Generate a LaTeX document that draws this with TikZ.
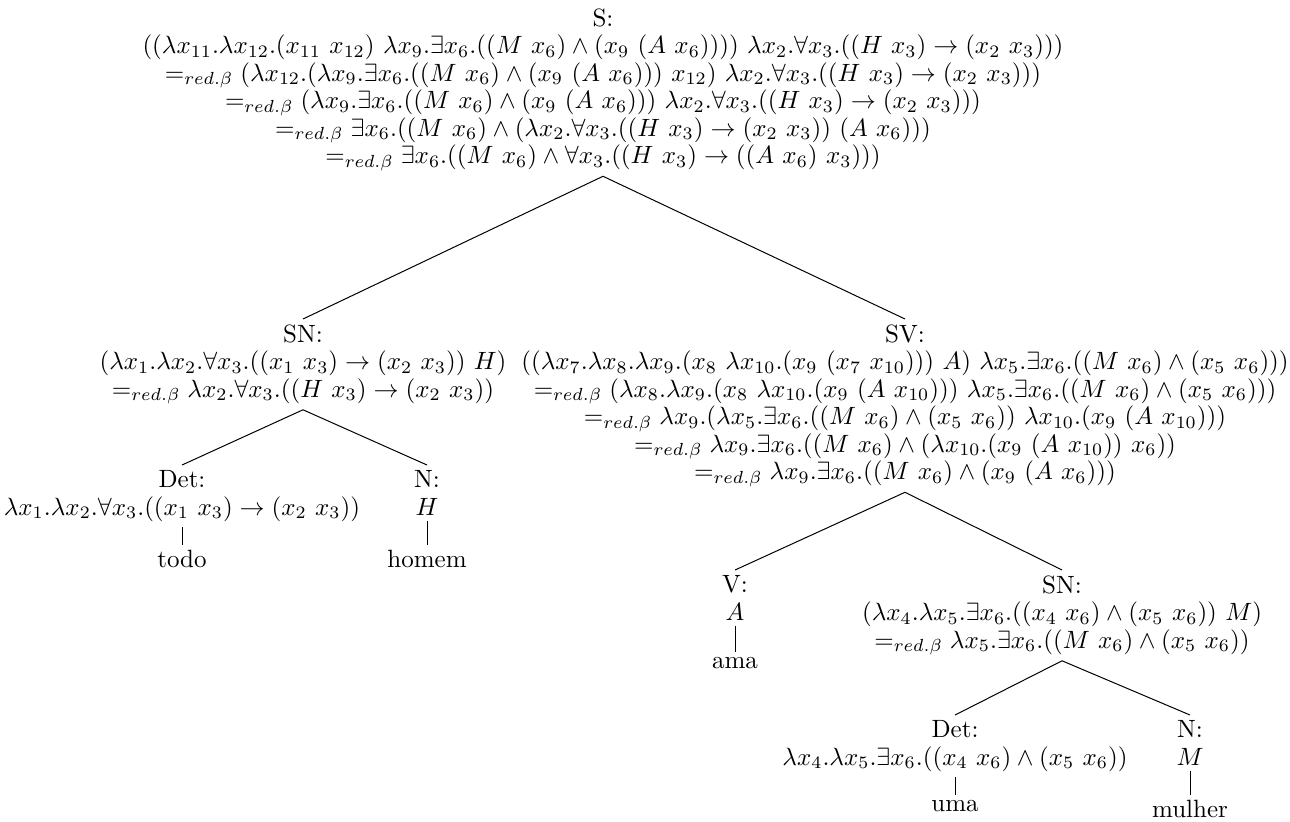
\documentclass[tikz,border=0pt]{standalone}
\usepackage{amsmath}
\newcommand{\tightrows}{\fontsize{10}{11}\selectfont\lineskiplimit=-100pt\relax}
\begin{document}
\begin{tikzpicture}[x=0.4pt,y=-0.4pt,
  tnode/.style={align=center,anchor=north,inner sep=2pt,font=\tightrows},
  leaf/.style={anchor=north,inner sep=2pt,font=\fontsize{10}{12}\selectfont},
  branch/.style={line width=0.4pt}]
\useasboundingbox (0,0) rectangle (1290,821);

% root
\node[tnode] (s) at (603,3) {S:\\
$((\lambda x_{11}.\lambda x_{12}.(x_{11}\ x_{12})\ \lambda x_9.\exists x_6.((M\ x_6) \wedge (x_9\ (A\ x_6))))\ \lambda x_2.\forall x_3.((H\ x_3) \rightarrow (x_2\ x_3)))$\\
$=_{red.\beta} (\lambda x_{12}.(\lambda x_9.\exists x_6.((M\ x_6) \wedge (x_9\ (A\ x_6)))\ x_{12})\ \lambda x_2.\forall x_3.((H\ x_3) \rightarrow (x_2\ x_3)))$\\
$=_{red.\beta} (\lambda x_9.\exists x_6.((M\ x_6) \wedge (x_9\ (A\ x_6)))\ \lambda x_2.\forall x_3.((H\ x_3) \rightarrow (x_2\ x_3)))$\\
$=_{red.\beta} \exists x_6.((M\ x_6) \wedge (\lambda x_2.\forall x_3.((H\ x_3) \rightarrow (x_2\ x_3))\ (A\ x_6)))$\\
$=_{red.\beta} \exists x_6.((M\ x_6) \wedge \forall x_3.((H\ x_3) \rightarrow ((A\ x_6)\ x_3)))$};

% subject noun phrase
\node[tnode] (sn) at (303,319) {SN:\\
$(\lambda x_1.\lambda x_2.\forall x_3.((x_1\ x_3) \rightarrow (x_2\ x_3))\ H)$\\
$=_{red.\beta} \lambda x_2.\forall x_3.((H\ x_3) \rightarrow (x_2\ x_3))$};

% verb phrase
\node[tnode] (sv) at (905,319) {SV:\\
$((\lambda x_7.\lambda x_8.\lambda x_9.(x_8\ \lambda x_{10}.(x_9\ (x_7\ x_{10})))\ A)\ \lambda x_5.\exists x_6.((M\ x_6) \wedge (x_5\ x_6)))$\\
$=_{red.\beta} (\lambda x_8.\lambda x_9.(x_8\ \lambda x_{10}.(x_9\ (A\ x_{10})))\ \lambda x_5.\exists x_6.((M\ x_6) \wedge (x_5\ x_6)))$\\
$=_{red.\beta} \lambda x_9.(\lambda x_5.\exists x_6.((M\ x_6) \wedge (x_5\ x_6))\ \lambda x_{10}.(x_9\ (A\ x_{10})))$\\
$=_{red.\beta} \lambda x_9.\exists x_6.((M\ x_6) \wedge (\lambda x_{10}.(x_9\ (A\ x_{10}))\ x_6))$\\
$=_{red.\beta} \lambda x_9.\exists x_6.((M\ x_6) \wedge (x_9\ (A\ x_6)))$};

% left subtree
\node[tnode] (det1) at (182,465) {Det:\\
$\lambda x_1.\lambda x_2.\forall x_3.((x_1\ x_3) \rightarrow (x_2\ x_3))$};
\node[tnode] (n1) at (427,465) {N:\\ $H$};
\node[leaf] (todo) at (182,545) {todo};
\node[leaf] (homem) at (427,545) {homem};

% right subtree
\node[tnode] (v) at (735,570) {V:\\ $A$};
\node[tnode] (sn2) at (1062,570) {SN:\\
$(\lambda x_4.\lambda x_5.\exists x_6.((x_4\ x_6) \wedge (x_5\ x_6))\ M)$\\
$=_{red.\beta} \lambda x_5.\exists x_6.((M\ x_6) \wedge (x_5\ x_6))$};
\node[leaf] (ama) at (735,652) {ama};
\node[tnode] (det2) at (955,715) {Det:\\
$\lambda x_4.\lambda x_5.\exists x_6.((x_4\ x_6) \wedge (x_5\ x_6))$};
\node[tnode] (n2) at (1190,715) {N:\\ $M$};
\node[leaf] (uma) at (955,795) {uma};
\node[leaf] (mulher) at (1190,795) {mulher};

% branches
\draw[branch] (s.south) -- (sn.north);
\draw[branch] (s.south) -- (sv.north);
\draw[branch] (sn.south) -- (det1.north);
\draw[branch] (sn.south) -- (n1.north);
\draw[branch] (det1.south) -- (todo.north);
\draw[branch] (n1.south) -- (homem.north);
\draw[branch] (sv.south) -- (v.north);
\draw[branch] (sv.south) -- (sn2.north);
\draw[branch] (v.south) -- (ama.north);
\draw[branch] (sn2.south) -- (det2.north);
\draw[branch] (sn2.south) -- (n2.north);
\draw[branch] (det2.south) -- (uma.north);
\draw[branch] (n2.south) -- (mulher.north);
\end{tikzpicture}
\end{document}
